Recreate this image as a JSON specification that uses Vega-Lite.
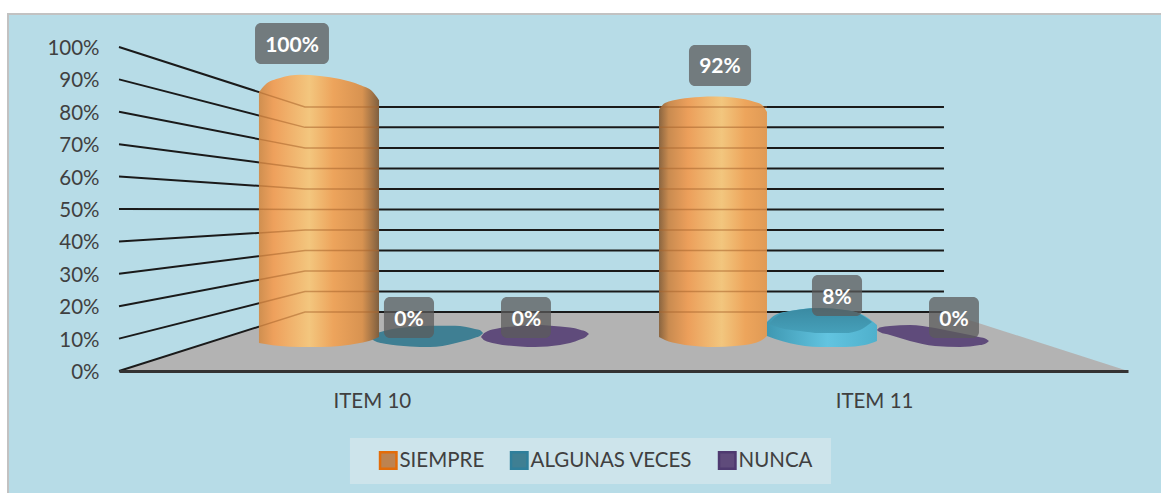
{
"$schema":"https://vega.github.io/schema/vega-lite/v6.json",
"width":1009,"height":324,
"autosize":{"type":"none"},
"padding":{"left":119,"top":47,"right":33,"bottom":122},
"background":"#ffffff",
"config":{"view":{"stroke":null},"font":"Lato"},
"datasets":{
"reticula":[
{"n":0,"x":0,"y":0},{"n":0,"x":18.43,"y":18.2},{"n":0,"x":81.76,"y":18.2},
{"n":10,"x":0,"y":10},{"n":10,"x":18.43,"y":24.5},{"n":10,"x":81.76,"y":24.5},
{"n":20,"x":0,"y":20},{"n":20,"x":18.43,"y":30.86},{"n":20,"x":81.76,"y":30.86},
{"n":30,"x":0,"y":30},{"n":30,"x":18.43,"y":37.2},{"n":30,"x":81.76,"y":37.2},
{"n":40,"x":0,"y":40},{"n":40,"x":18.43,"y":43.5},{"n":40,"x":81.76,"y":43.5},
{"n":50,"x":0,"y":50},{"n":50,"x":18.43,"y":49.85},{"n":50,"x":81.76,"y":49.85},
{"n":60,"x":0,"y":60},{"n":60,"x":18.43,"y":56.2},{"n":60,"x":81.76,"y":56.2},
{"n":70,"x":0,"y":70},{"n":70,"x":18.43,"y":62.5},{"n":70,"x":81.76,"y":62.5},
{"n":80,"x":0,"y":80},{"n":80,"x":18.43,"y":68.8},{"n":80,"x":81.76,"y":68.8},
{"n":90,"x":0,"y":90},{"n":90,"x":18.43,"y":75.2},{"n":90,"x":81.76,"y":75.2},
{"n":100,"x":0,"y":100},{"n":100,"x":18.43,"y":81.5},{"n":100,"x":81.76,"y":81.5}
],
"sobreBarra":[
{"n":"a0","x":13.87,"y":13.7},{"n":"a0","x":18.43,"y":18.2},{"n":"a0","x":25.77,"y":18.2},
{"n":"a10","x":13.87,"y":20.9},{"n":"a10","x":18.43,"y":24.5},{"n":"a10","x":25.77,"y":24.5},
{"n":"a20","x":13.87,"y":28.17},{"n":"a20","x":18.43,"y":30.86},{"n":"a20","x":25.77,"y":30.86},
{"n":"a30","x":13.87,"y":35.42},{"n":"a30","x":18.43,"y":37.2},{"n":"a30","x":25.77,"y":37.2},
{"n":"a40","x":13.87,"y":42.63},{"n":"a40","x":18.43,"y":43.5},{"n":"a40","x":25.77,"y":43.5},
{"n":"a50","x":13.87,"y":49.89},{"n":"a50","x":18.43,"y":49.85},{"n":"a50","x":25.77,"y":49.85},
{"n":"a60","x":13.87,"y":57.14},{"n":"a60","x":18.43,"y":56.2},{"n":"a60","x":25.77,"y":56.2},
{"n":"a70","x":13.87,"y":64.36},{"n":"a70","x":18.43,"y":62.5},{"n":"a70","x":25.77,"y":62.5},
{"n":"a80","x":13.87,"y":71.57},{"n":"a80","x":18.43,"y":68.8},{"n":"a80","x":25.77,"y":68.8},
{"n":"a90","x":13.87,"y":78.86},{"n":"a90","x":18.43,"y":75.2},{"n":"a90","x":25.77,"y":75.2},
{"n":"a100","x":13.87,"y":86.08},{"n":"a100","x":18.43,"y":81.5},{"n":"a100","x":25.77,"y":81.5},
{"n":"b0","x":53.52,"y":18.2},{"n":"b0","x":64.22,"y":18.2},
{"n":"b10","x":53.52,"y":24.5},{"n":"b10","x":64.22,"y":24.5},
{"n":"b20","x":53.52,"y":30.86},{"n":"b20","x":64.22,"y":30.86},
{"n":"b30","x":53.52,"y":37.2},{"n":"b30","x":64.22,"y":37.2},
{"n":"b40","x":53.52,"y":43.5},{"n":"b40","x":64.22,"y":43.5},
{"n":"b50","x":53.52,"y":49.85},{"n":"b50","x":64.22,"y":49.85},
{"n":"b60","x":53.52,"y":56.2},{"n":"b60","x":64.22,"y":56.2},
{"n":"b70","x":53.52,"y":62.5},{"n":"b70","x":64.22,"y":62.5},
{"n":"b80","x":53.52,"y":68.8},{"n":"b80","x":64.22,"y":68.8},
{"n":"b90","x":53.52,"y":75.2},{"n":"b90","x":64.22,"y":75.2},
{"n":"b100","x":53.52,"y":81.5},{"n":"b100","x":64.22,"y":81.5}
],
"bases":[
{"id":"s10","serie":"SIEMPRE","x":20,"y":10,"y2":9},{"id":"s10","serie":"SIEMPRE","x":21,"y":10,"y2":9},
{"id":"s11","serie":"SIEMPRE","x":59,"y":10,"y2":9},{"id":"s11","serie":"SIEMPRE","x":60,"y":10,"y2":9},
{"id":"a11","serie":"ALGUNAS VECES","x":69,"y":10,"y2":9},{"id":"a11","serie":"ALGUNAS VECES","x":70,"y":10,"y2":9},
{"id":"a10","serie":"ALGUNAS VECES","x":24.98,"y":10.2,"y2":10.2},
{"id":"a10","serie":"ALGUNAS VECES","x":25.3,"y":11.2,"y2":9.3},
{"id":"a10","serie":"ALGUNAS VECES","x":26.36,"y":12.4,"y2":8.4},
{"id":"a10","serie":"ALGUNAS VECES","x":28.84,"y":13.6,"y2":7.6},
{"id":"a10","serie":"ALGUNAS VECES","x":30.82,"y":14.0,"y2":7.4},
{"id":"a10","serie":"ALGUNAS VECES","x":33.3,"y":14.0,"y2":8.6},
{"id":"a10","serie":"ALGUNAS VECES","x":35.28,"y":13.0,"y2":10.3},
{"id":"a10","serie":"ALGUNAS VECES","x":35.8,"y":12.6,"y2":10.9},
{"id":"a10","serie":"ALGUNAS VECES","x":36.08,"y":11.7,"y2":11.7},
{"id":"n10","serie":"NUNCA","x":35.88,"y":10.5,"y2":10.5},
{"id":"n10","serie":"NUNCA","x":36.2,"y":11.7,"y2":9.5},
{"id":"n10","serie":"NUNCA","x":37.26,"y":12.95,"y2":8.5},
{"id":"n10","serie":"NUNCA","x":39.74,"y":13.9,"y2":7.56},
{"id":"n10","serie":"NUNCA","x":41.23,"y":14.2,"y2":7.4},
{"id":"n10","serie":"NUNCA","x":43.71,"y":13.7,"y2":8.0},
{"id":"n10","serie":"NUNCA","x":45.69,"y":12.75,"y2":9.7},
{"id":"n10","serie":"NUNCA","x":46.3,"y":12.1,"y2":10.6},
{"id":"n10","serie":"NUNCA","x":46.58,"y":11.4,"y2":11.4},
{"id":"n11","serie":"NUNCA","x":75.12,"y":12.65,"y2":12.65},
{"id":"n11","serie":"NUNCA","x":75.4,"y":13.4,"y2":12.0},
{"id":"n11","serie":"NUNCA","x":76.41,"y":13.9,"y2":11.1},
{"id":"n11","serie":"NUNCA","x":78.39,"y":14.2,"y2":9.26},
{"id":"n11","serie":"NUNCA","x":80.87,"y":13.27,"y2":7.7},
{"id":"n11","serie":"NUNCA","x":83.35,"y":11.7,"y2":7.4},
{"id":"n11","serie":"NUNCA","x":85.33,"y":10.4,"y2":8.0},
{"id":"n11","serie":"NUNCA","x":85.95,"y":9.9,"y2":8.6},
{"id":"n11","serie":"NUNCA","x":86.22,"y":9.26,"y2":9.26}
],
"etiquetas":[
{"serie":"SIEMPRE","item":"ITEM 10","valor":1.0,"x":13.48,"x2":20.81,"y":107.4,"y2":94.75,"xc":17.15,"yc":101.08},
{"serie":"ALGUNAS VECES","item":"ITEM 10","valor":0,"x":26.26,"x2":31.22,"y":22.84,"y2":10.19,"xc":28.74,"yc":16.5},
{"serie":"NUNCA","item":"ITEM 10","valor":0,"x":37.86,"x2":42.81,"y":22.84,"y2":10.19,"xc":40.38,"yc":16.5},
{"serie":"SIEMPRE","item":"ITEM 11","valor":0.92,"x":56.49,"x2":62.64,"y":100.6,"y2":87.96,"xc":59.56,"yc":94.3},
{"serie":"ALGUNAS VECES","item":"ITEM 11","valor":0.08,"x":68.68,"x2":73.64,"y":29.63,"y2":16.98,"xc":71.16,"yc":23.3},
{"serie":"NUNCA","item":"ITEM 11","valor":0,"x":80.28,"x2":85.23,"y":22.84,"y2":10.19,"xc":82.76,"yc":16.5}
]
},
"encoding":{
"x":{"field":"x","type":"quantitative","title":null,"scale":{"domain":[0,100],"nice":false,"zero":false},
 "axis":{"values":[25.06,74.83],"labelExpr":"datum.value<50?'ITEM 10':'ITEM 11'","grid":false,"ticks":false,"domain":true,"domainColor":"#333333","domainWidth":3,"labelFont":"Lato","labelFontSize":20.5,"labelColor":"#404040","labelPadding":20,"labelFlush":false,"labelOverlap":false,"zindex":1}},
"y":{"field":"y","type":"quantitative","title":null,"scale":{"domain":[0,100],"nice":false,"zero":false},
 "axis":{"values":[0,10,20,30,40,50,60,70,80,90,100],"labelExpr":"datum.value+'%'","grid":false,"ticks":false,"domain":false,"labelFont":"Lato","labelFontSize":20.5,"labelColor":"#404040","labelPadding":20,"labelOffset":1.5,"labelOverlap":false,"labelFlush":false,"zindex":1}}
},
"layer":[
{"data":{"values":[{"x":-11,"x2":103.7,"y":110.2,"y2":-39}]},
 "mark":{"type":"rect","fill":"#b7dce7","stroke":"#c2c2c2","strokeWidth":2},
 "encoding":{"x2":{"field":"x2"},"y2":{"field":"y2"}}},
{"data":{"values":[{"x":22.89,"x2":70.56,"y":-20.68,"y2":-34.88}]},
 "mark":{"type":"rect","fill":"#cde4eb"},
 "encoding":{"x2":{"field":"x2"},"y2":{"field":"y2"}}},
{"data":{"values":[{"x":0,"y":0,"y2":0},{"x":18.43,"y":18.2,"y2":0},{"x":81.76,"y":18.2,"y2":0},{"x":100,"y":0,"y2":0}]},
 "mark":{"type":"area","color":"#b3b3b3"},
 "encoding":{"y2":{"field":"y2"}}},
{"data":{"name":"reticula"},
 "mark":{"type":"line","color":"#1a1a1a","strokeWidth":2},
 "encoding":{"detail":{"field":"n"}}},
{"data":{"name":"bases"},
 "mark":{"type":"area","interpolate":"monotone","strokeWidth":0},
 "encoding":{"y2":{"field":"y2"},"detail":{"field":"id"},
  "fill":{"field":"serie","type":"nominal","title":null,
   "scale":{"domain":["SIEMPRE","ALGUNAS VECES","NUNCA"],"range":["#bd8350","#3f7f93","#5f4b7b"]},
   "legend":{"orient":"none","legendX":259,"legendY":403,"direction":"horizontal","columns":3,"gridAlign":"each","columnPadding":21,"padding":0,"symbolType":"square","symbolSize":270,"symbolStrokeWidth":2.5,"symbolOpacity":1,"labelFont":"Lato","labelFontSize":20.5,"labelColor":"#404040","labelOffset":1,"labelLimit":300}},
  "stroke":{"field":"serie","type":"nominal","title":null,
   "scale":{"domain":["SIEMPRE","ALGUNAS VECES","NUNCA"],"range":["#e36c09","#2f7f9b","#4f3a70"]}}}},
{"data":{"values":[
 {"x":13.87,"y":86.1,"y2":8.64},{"x":14.47,"y":88.3,"y2":8.33},{"x":15.96,"y":90.4,"y2":7.7},{"x":17.94,"y":91.4,"y2":7.4},{"x":19.92,"y":91.05,"y2":7.4},{"x":21.9,"y":90.1,"y2":7.7},{"x":23.88,"y":88.3,"y2":8.64},{"x":25.07,"y":86.4,"y2":9.57},{"x":25.77,"y":83.6,"y2":10.5}]},
 "mark":{"type":"area","interpolate":"monotone","color":{"gradient":"linear","x1":0,"x2":1,"y1":0,"y2":0,"stops":[{"offset":0,"color":"#cf8f50"},{"offset":0.12,"color":"#eea05c"},{"offset":0.42,"color":"#f3c67e"},{"offset":0.62,"color":"#eda45c"},{"offset":0.86,"color":"#d89351"},{"offset":1,"color":"#7f5f3f"}]}},
 "encoding":{"y2":{"field":"y2"}}},
{"data":{"values":[
 {"x":53.52,"y":80.6,"y2":10.5},{"x":54.11,"y":82.7,"y2":9.57},{"x":55.6,"y":83.95,"y2":8.33},{"x":57.58,"y":84.6,"y2":7.56},{"x":59.07,"y":84.7,"y2":7.4},{"x":61.05,"y":84.3,"y2":7.7},{"x":63.03,"y":83.0,"y2":8.64},{"x":63.73,"y":82.1,"y2":9.57},{"x":64.22,"y":79.9,"y2":10.8}]},
 "mark":{"type":"area","interpolate":"monotone","color":{"gradient":"linear","x1":0,"x2":1,"y1":0,"y2":0,"stops":[{"offset":0,"color":"#8a6540"},{"offset":0.09,"color":"#c98b50"},{"offset":0.27,"color":"#ec9f5b"},{"offset":0.58,"color":"#f2c67e"},{"offset":0.8,"color":"#eda55c"},{"offset":1,"color":"#e09a55"}]}},
 "encoding":{"y2":{"field":"y2"}}},
{"data":{"values":[
 {"x":64.22,"y":15.1,"y2":10.8},{"x":65.03,"y":17.3,"y2":9.9},{"x":66.5,"y":18.5,"y2":8.6},{"x":69.47,"y":19.44,"y2":7.4},{"x":71.95,"y":18.8,"y2":7.4},{"x":73.93,"y":17.0,"y2":8.0},{"x":75.12,"y":14.2,"y2":9.26}]},
 "mark":{"type":"area","interpolate":"monotone","color":{"gradient":"linear","x1":0,"x2":1,"y1":0,"y2":0,"stops":[{"offset":0,"color":"#3f98b2"},{"offset":0.55,"color":"#62c4e0"},{"offset":1,"color":"#4fb0cc"}]}},
 "encoding":{"y2":{"field":"y2"}}},
{"data":{"values":[
 {"x":64.42,"y":14.5,"y2":14.5},{"x":65.53,"y":17.6,"y2":13.27},{"x":67.5,"y":19.0,"y2":12.35},{"x":69.47,"y":19.44,"y2":11.7},{"x":71.95,"y":18.8,"y2":11.7},{"x":73.44,"y":17.6,"y2":12.65},{"x":74.63,"y":15.1,"y2":15.1}]},
 "mark":{"type":"area","interpolate":"monotone","color":{"gradient":"linear","x1":0,"x2":0,"y1":0,"y2":1,"stops":[{"offset":0,"color":"#3a8aa2"},{"offset":1,"color":"#46a0ba"}]}},
 "encoding":{"y2":{"field":"y2"}}},
{"data":{"name":"sobreBarra"},
 "mark":{"type":"line","color":"#a8652c","strokeWidth":1.5,"opacity":0.55},
 "encoding":{"detail":{"field":"n"}}},
{"data":{"name":"etiquetas"},
 "mark":{"type":"rect","fill":"#5b5b5b","opacity":0.75,"cornerRadius":6},
 "encoding":{"x2":{"field":"x2"},"y2":{"field":"y2"}}},
{"data":{"name":"etiquetas"},
 "mark":{"type":"text","color":"#ffffff","font":"Lato","fontWeight":"bold","fontSize":21,"align":"center","baseline":"middle","dy":2},
 "encoding":{"x":{"field":"xc","type":"quantitative"},"y":{"field":"yc","type":"quantitative"},"text":{"field":"valor","type":"quantitative","format":".0%"}}}
]
}
